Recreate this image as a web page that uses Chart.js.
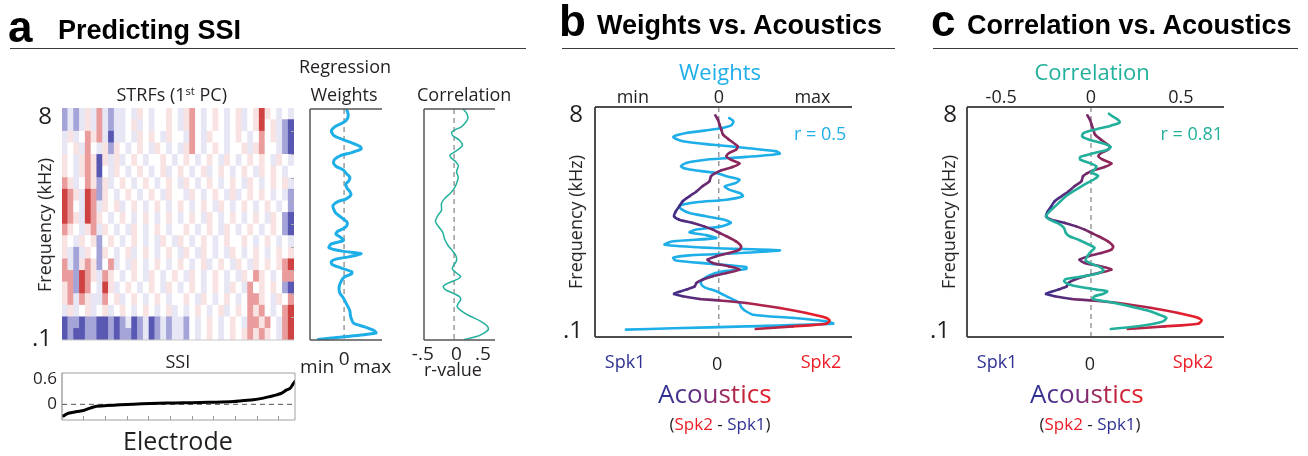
<!DOCTYPE html>
<html>
<head>
<meta charset="utf-8">
<script src="https://cdn.jsdelivr.net/npm/chart.js@4.4.1/dist/chart.umd.min.js"></script>
<style>
    html, body { margin: 0; padding: 0; background: #fff; }
    #fig { position: relative; width: 1308px; height: 456px; overflow: hidden; font-family: "Open Sans", sans-serif; color: #231f20; }
    #fig canvas { position: absolute; left: 0; top: 0; }
    .t { position: absolute; white-space: nowrap; line-height: 1; }
    .h { font-family: "Liberation Sans", Arial, sans-serif; font-weight: bold; color: #000; }
    .rule { position: absolute; height: 1.5px; background: #3a3a3a; }
    .grad { background: linear-gradient(90deg, #2e3192 5%, #7a2d7a 45%, #c0243c 75%, #ed1c24); -webkit-background-clip: text; background-clip: text; color: transparent; }
    sup { font-size: 62%; vertical-align: 0.55em; line-height: 0; }
</style>
</head>
<body>
<div id="fig"></div>
<script>
/* Predicting SSI / Weights vs. Acoustics / Correlation vs. Acoustics */

// ------------------------------------------------------------
// Data (frequency axis: 0 = bottom of box, 100 = top)
// ------------------------------------------------------------

// STRF heatmap, rows from top (8 kHz) to bottom (.1 kHz), 40 electrode columns
// B b - . + r R  = strong blue ... white ... strong red
const strfRows = [
    'b-b-+-r-b-' + '-.-+.-..+.' + '-+r.-.+.-.' + '+-.+R+.-.-',
    'b-b-+-r-b-' + '-.+-.-..+.' + '-+r.-.+.-.' + '+-.+R.+-bB',
    '-+-.r+r-B-' + '-.-+.+.-+.' + '.-r.-+..-.' + '+.-.r.+-bB',
    '-.+-r.-+b+' + '.-.+.-+.-.' + '-+r.-.+.-.' + '.+-+r..-bB',
    '+.-+r+B+-+' + '-.+.-..+.-' + '.+.-.+.-+.' + '-.+.+.-+.-',
    '+.-+r+B.-+' + '.-.+.-.+-.' + '+.-.+-.+.-' + '.+.-+.+.-.',
    'r+-.r+b+-.' + '+.-.+.-.+.' + '-+.-.+.-.+' + '.-+.-.+.+-',
    'Rr+-Rrb+.-' + '.+.-.+.-+.' + '.-+.-.+.-+' + '-.+.+.-.-b',
    'Rr.-Rr-+.+' + '-.+.-.+.-.' + '+.-.+.-+.-' + '.+.-.+.-.b',
    'Rr+-Rr+.-.' + '+.-.+.-.+.' + '-.+.-+.-.+' + '.-.+.-+.bB',
    'r+.-+r-+.-' + '.-+.-.+.-.' + '.+.-.+.-+.' + '-.+.-.+.bB',
    '+.-+.+b.+.' + '-.+.-.-+.-' + '+.-.+.-.+.' + '.+.-.+.-.-',
    '+-b-+.b+.-' + '.+-.+.-.+.' + '-+.-+.-.-+' + '.-.+.-.+.+',
    'r-b+r+b.r-' + '.-+.-.+.-.' + '+.-.+-.+.-' + '+.-+.+.+rR',
    'rrbRr+-r+.' + '-.+.-+.-.+' + '.-+.-.+.-.' + '-+.r+.-.rr',
    '+rbRr.-R+-' + '.+.-.+.-+.' + '-.+.-.+.-+' + '.-r.+.+.bB',
    '+r-r+--r.+' + '-.+.-.+.-.' + '.+.-+.-.+.' + '-.rr+.-+.r',
    '-+-.+-.+-.' + '+.-.+.-.+-' + '.-.+.-.+-.' + '+.r+r.-.rR',
    'BbbBbbBBbB' + 'b-Bb-Bb-b-' + '-b.-.+.-.+' + '.-rr+r.-rR',
    'BbBBbbBBbB' + 'bbBb-Bb-b-' + '-b.-.+.-.+' + '.+r+r+.-rR',
];
const strfColors = {
    'B': 'rgb(88,88,178)', 'b': 'rgb(164,164,216)', '-': 'rgb(230,230,245)',
    '.': 'rgb(255,255,255)',
    '+': 'rgb(249,226,226)', 'r': 'rgb(234,156,156)', 'R': 'rgb(206,66,66)',
};
const strfTicks = [2, 4, 6, 8, 10, 12, 14, 16, 18];

// regression weights (same curve in a and b)
const weightsFreq = [95.2, 93.8, 91.9, 90.4, 88.7, 87.0, 85.1, 83.6, 82.2, 80.7, 79.7, 78.3, 77.1, 75.7, 74.2,
    72.8, 71.3, 69.9, 68.4, 67.0, 65.5, 64.1, 62.3, 61.2, 59.7, 58.6, 57.1, 55.7, 53.9, 52.5, 50.7, 49.6,
    48.1, 46.7, 45.5, 44.3, 43.0, 41.6, 40.1, 38.7, 37.7, 36.5, 35.5, 34.5, 33.3, 31.9, 30.4, 29.6, 28.3,
    26.8, 24.9, 23.5, 21.7, 19.9, 17.7, 14.8, 13.0, 11.6, 9.7, 8.3, 6.8, 5.8, 4.6, 3.8, 3.2];
const weightsVal = [0.12, 0.17, 0.14, -0.03, -0.38, -0.53, -0.42, -0.07, 0.32, 0.67, 0.71, 0.32, -0.15, -0.38, -0.44,
    -0.34, -0.03, 0.09, 0.24, 0.20, 0.07, 0.12, 0.26, 0.28, 0.09, -0.26, -0.46, -0.44, -0.34, -0.15, 0.09, 0.14,
    0.03, -0.26, -0.34, -0.15, -0.03, -0.53, -0.63, -0.07, 0.71, 0.24, -0.34, -0.53, -0.50, -0.11, 0.32, 0.32, 0.01,
    -0.11, -0.19, -0.21, -0.17, -0.03, 0.09, 0.24, 0.26, 0.30, 0.40, 0.86, 1.25, 1.33, 0.32, -0.53, -1.08];

// acoustics (Spk2 - Spk1), same curve in b and c
const acousticFreq = [96.4, 94.5, 92.3, 90.1, 88.0, 85.8, 82.9, 81.4, 80.0, 78.6, 77.1, 75.4, 73.9, 72.5, 71.0,
    69.9, 67.7, 65.5, 63.3, 61.2, 59.0, 56.8, 54.6, 52.5, 51.0, 49.6, 48.1, 46.7, 45.2, 43.8, 41.6, 39.4, 38.0,
    36.5, 35.1, 33.6, 32.2, 30.7, 29.3, 27.8, 26.4, 24.9, 23.5, 22.0, 20.6, 18.8, 17.7, 16.5, 15.9, 14.8, 12.6,
    10.4, 8.3, 7.2, 5.8, 4.6, 3.5];
const acousticVal = [-0.04, -0.01, 0.01, 0.03, 0.05, 0.12, 0.22, 0.20, 0.12, 0.09, 0.14, 0.24, 0.16, 0.03, -0.05,
    -0.09, -0.11, -0.19, -0.26, -0.34, -0.42, -0.46, -0.50, -0.52, -0.46, -0.30, -0.17, -0.07, 0.01, 0.09, 0.20,
    0.26, 0.24, 0.12, -0.03, -0.13, -0.07, 0.12, 0.24, 0.09, -0.07, -0.19, -0.26, -0.28, -0.38, -0.52, -0.42,
    -0.22, 0.01, 0.32, 0.71, 1.02, 1.25, 1.29, 1.25, 0.86, 0.43];

// correlation (r-value) as drawn in c
const corrFreq = [97.1, 95.9, 94.5, 93.3, 91.9, 90.1, 88.7, 87.2, 85.8, 84.1, 82.6, 81.4, 80.0, 78.3, 77.1, 75.7,
    74.2, 72.8, 71.6, 70.1, 68.7, 67.0, 65.2, 63.3, 61.2, 59.0, 56.8, 54.6, 52.5, 51.0, 49.3, 47.4, 45.2, 43.8,
    42.3, 40.1, 38.7, 37.2, 35.1, 33.3, 31.9, 30.4, 29.0, 27.5, 26.4, 25.2, 24.2, 22.8, 21.7, 20.6, 19.9, 18.8,
    17.7, 16.5, 15.1, 13.3, 11.6, 9.7, 8.3, 6.8, 5.8, 4.6, 3.5];
const corrVal = [0.10, 0.12, 0.15, 0.16, 0.11, 0.02, -0.04, -0.05, -0.01, 0.07, 0.11, 0.09, 0.02, -0.06, -0.06, -0.01,
    0.03, 0.02, 0.00, 0.04, 0.02, -0.02, -0.06, -0.10, -0.14, -0.17, -0.20, -0.23, -0.25, -0.23, -0.18, -0.15,
    -0.14, -0.12, -0.07, -0.01, 0.02, 0.00, -0.02, -0.03, 0.00, 0.05, 0.07, 0.03, -0.04, -0.14, -0.15, -0.12,
    -0.06, 0.03, 0.09, 0.07, 0.02, 0.01, 0.11, 0.22, 0.31, 0.38, 0.42, 0.40, 0.35, 0.25, 0.11];

// correlation as drawn in a
const corrAFreq = [100, 98.1, 95.9, 93.8, 92.3, 90.9, 89.9, 88.4, 86.5, 84.3, 82.9, 81.4, 80.0, 78.6, 77.1, 75.4,
    72.8, 70.6, 68.4, 65.5, 63.3, 61.2, 59.0, 56.1, 53.9, 51.3, 48.8, 46.7, 43.8, 40.9, 38.7, 36.5, 34.3, 32.2,
    30.7, 29.0, 27.5, 26.1, 24.6, 23.2, 21.7, 20.3, 18.8, 17.4, 15.9, 14.5, 12.6, 10.4, 8.3, 6.1, 4.6, 2.9, 1.4, 0.3];
const corrAVal = [0.15, 0.21, 0.23, 0.18, 0.12, 0.01, -0.04, -0.02, 0.09, 0.14, 0.09, 0.01, -0.07, -0.04, 0.03, 0.07,
    0.04, 0.07, 0.05, 0.0, -0.07, -0.16, -0.21, -0.21, -0.27, -0.31, -0.25, -0.19, -0.16, -0.10, -0.03, 0.03, 0.04,
    -0.01, -0.03, 0.04, 0.11, 0.04, -0.10, -0.18, -0.14, -0.02, 0.09, 0.11, 0.07, 0.05, 0.12, 0.26, 0.43, 0.55,
    0.57, 0.49, 0.36, 0.18];

// SSI sorted across electrodes (electrode position in %)
const ssiElectrode = [0.7, 2.1, 4.3, 6.4, 9.3, 12.1, 14.3, 19.3, 25, 30.7, 37.9, 45, 52.1, 59.3, 66.4, 73.6, 77.9,
    82.1, 86.4, 89.3, 92.1, 94.3, 96.4, 97.9, 99, 100];
const ssiVal = [-0.28, -0.23, -0.20, -0.175, -0.15, -0.09, -0.05, -0.03, -0.012, 0.004, 0.02, 0.03, 0.037, 0.045,
    0.053, 0.07, 0.093, 0.11, 0.15, 0.19, 0.23, 0.27, 0.35, 0.39, 0.48, 0.56];
const ssiTicks = [9.1, 18.4, 27.7, 37, 46.3, 55.6, 64.9, 74.2, 83.5, 92.8];

// ------------------------------------------------------------
// Helpers
// ------------------------------------------------------------
const W = 1308, H = 456;
const fig = document.getElementById('fig');
const INK = '#231f20', BLUE = '#1eaee8', TEAL = '#22b09c', NAVY = '#2e3192', RED = '#ed1c24';

function pad(l, t, r, b) {
    return { left: l, top: t, right: W - r, bottom: H - b };
}

function label(html, x, base, size, o = {}) {
    const d = document.createElement('div');
    d.className = 't' + (o.bold ? ' h' : '') + (o.cls ? ' ' + o.cls : '');
    d.innerHTML = html;
    d.style.fontSize = size + 'px';
    if (o.color) d.style.color = o.color;
    fig.appendChild(d);
    const w = d.offsetWidth, h = d.offsetHeight;
    if (o.rotate) {
        d.style.left = (x - w / 2) + 'px';
        d.style.top = (base - h / 2) + 'px';
        d.style.transform = 'rotate(-90deg)';
        return;
    }
    const k = o.bold ? 0.846 : 0.888; // baseline offset (em) for line-height 1
    d.style.top = (base - k * size) + 'px';
    const align = o.align || 'center';
    d.style.left = (align === 'left' ? x : align === 'right' ? x - w : x - w / 2) + 'px';
}

function rule(x0, x1, y) {
    const d = document.createElement('div');
    d.className = 'rule';
    Object.assign(d.style, { left: x0 + 'px', width: (x1 - x0) + 'px', top: y + 'px' });
    fig.appendChild(d);
}

function canvas() {
    const c = document.createElement('canvas');
    c.width = W;
    c.height = H;
    fig.appendChild(c);
    return c;
}

function curve(vals, freqs, color, width, extra) {
    return Object.assign({
        data: vals.map((v, i) => ({ x: v, y: freqs[i] })),
        showLine: true,
        borderColor: color,
        borderWidth: width,
        pointRadius: 0,
        tension: 0.25,
        borderCapStyle: 'round',
        borderJoinStyle: 'round',
    }, extra || {});
}

// navy -> maroon -> red by acoustic value
function acousticColor(v) {
    const stops = [[-0.55, [58, 46, 140]], [0.1, [135, 40, 96]], [1.2, [236, 30, 40]]];
    let i = v < stops[1][0] ? 0 : 1;
    const [v0, c0] = stops[i], [v1, c1] = stops[i + 1];
    const t = Math.max(0, Math.min(1, (v - v0) / (v1 - v0)));
    const c = c0.map((a, k) => Math.round(a + (c1[k] - a) * t));
    return `rgb(${c[0]},${c[1]},${c[2]})`;
}

// frame, zero lines, inward ticks and tick texts, all through the chart scales
function decor(spec) {
    return {
        id: 'decor',
        beforeDatasetsDraw(chart) {
            const { ctx, chartArea: a } = chart;
            (spec.zero || []).forEach((z) => {
                const s = chart.scales[z.axis];
                const p = s.getPixelForValue(z.value);
                ctx.save();
                ctx.strokeStyle = z.color || '#8c8c8c';
                ctx.lineWidth = z.width || 1.3;
                ctx.setLineDash(z.dash || [5, 4]);
                ctx.beginPath();
                if (s.isHorizontal()) { ctx.moveTo(p, a.top); ctx.lineTo(p, a.bottom); }
                else { ctx.moveTo(a.left, p); ctx.lineTo(a.right, p); }
                ctx.stroke();
                ctx.restore();
            });
        },
        afterDraw(chart) {
            const { ctx, chartArea: a } = chart;
            (spec.frame || []).forEach((f) => {
                ctx.save();
                ctx.strokeStyle = f.color || '#4d4d4d';
                ctx.lineWidth = f.width || 1.5;
                ctx.beginPath();
                f.sides.forEach((sd) => {
                    if (sd === 'top') { ctx.moveTo(a.left, a.top); ctx.lineTo(a.right, a.top); }
                    if (sd === 'bottom') { ctx.moveTo(a.left, a.bottom); ctx.lineTo(a.right, a.bottom); }
                    if (sd === 'left') { ctx.moveTo(a.left, a.top); ctx.lineTo(a.left, a.bottom); }
                    if (sd === 'right') { ctx.moveTo(a.right, a.top); ctx.lineTo(a.right, a.bottom); }
                });
                ctx.stroke();
                ctx.restore();
            });
            (spec.ticks || []).forEach((tk) => {
                const s = chart.scales[tk.axis];
                ctx.save();
                ctx.strokeStyle = tk.color || '#999';
                ctx.lineWidth = 1;
                ctx.beginPath();
                tk.values.forEach((v) => {
                    const p = Math.round(s.getPixelForValue(v)) + 0.5;
                    if (tk.side === 'right') { ctx.moveTo(a.right, p); ctx.lineTo(a.right - tk.len, p); }
                    if (tk.side === 'bottom') { ctx.moveTo(p, a.bottom); ctx.lineTo(p, a.bottom - tk.len); }
                });
                ctx.stroke();
                ctx.restore();
            });
            (spec.text || []).forEach((t) => {
                const s = chart.scales[t.axis];
                ctx.save();
                ctx.font = (t.size || 18) + 'px "Open Sans"';
                ctx.fillStyle = t.color || INK;
                ctx.textAlign = t.align || 'center';
                if (s.isHorizontal()) {
                    ctx.textBaseline = 'alphabetic';
                    ctx.fillText(t.text, s.getPixelForValue(t.value), t.at);
                } else {
                    ctx.textBaseline = 'middle';
                    ctx.fillText(t.text, t.at, s.getPixelForValue(t.value));
                }
                ctx.restore();
            });
        },
    };
}

function makeChart(type, box, scales, data, spec) {
    return new Chart(canvas(), {
        type,
        data,
        options: {
            responsive: false,
            animation: false,
            events: [],
            layout: { padding: pad(box[0], box[1], box[2], box[3]) },
            plugins: { legend: { display: false }, tooltip: { enabled: false } },
            scales,
        },
        plugins: [decor(spec)],
    });
}

function lin(min, max, extra) {
    return Object.assign({ type: 'linear', display: false, min, max }, extra || {});
}

// ------------------------------------------------------------
// Panel a: STRF heatmap (stacked unit bars, one dataset per frequency row)
// ------------------------------------------------------------
const nCols = strfRows[0].length;
const colLabels = Array.from({ length: nCols }, (_, i) => String(i + 1));
const strfSets = strfRows.slice().reverse().map((row) => ({
    data: colLabels.map(() => 1),
    backgroundColor: row.split('').map((ch) => strfColors[ch]),
    borderWidth: 0,
    barPercentage: 1,
    categoryPercentage: 1,
}));

makeChart('bar', [62, 108, 294, 340], {
    x: { display: false, stacked: true },
    y: lin(0, strfRows.length, { stacked: true }),
}, { labels: colLabels, datasets: strfSets }, {
    frame: [{ sides: ['bottom'], color: '#c8c8c8', width: 1 }],
    ticks: [{ axis: 'y', values: strfTicks, side: 'right', len: 3, color: '#aaa' }],
    text: [
        { axis: 'y', value: 19.2, text: '8', at: 52, align: 'right', size: 24 },
        { axis: 'y', value: 0.1, text: '.1', at: 52, align: 'right', size: 24 },
    ],
});

// regression weights (a)
makeChart('scatter', [310, 109, 382, 340], {
    x: lin(-1.42, 1.58),
    y: lin(3.0, 95.8),
}, { datasets: [curve(weightsVal, weightsFreq, BLUE, 3)] }, {
    zero: [{ axis: 'x', value: 0, color: '#8c8c8c', dash: [5, 4] }],
    frame: [{ sides: ['top', 'left', 'bottom'], color: '#555', width: 1.5 }],
    text: [
        { axis: 'x', value: -1.125, text: 'min', at: 373, size: 19 },
        { axis: 'x', value: 0, text: '0', at: 365, size: 19 },
        { axis: 'x', value: 1.17, text: 'max', at: 373, size: 19 },
    ],
});

// correlation (a)
makeChart('scatter', [424, 109, 495, 340], {
    x: lin(-0.5, 0.68),
    y: lin(0, 100),
}, { datasets: [curve(corrAVal, corrAFreq, TEAL, 1.5)] }, {
    zero: [{ axis: 'x', value: 0, color: '#8c8c8c', dash: [5, 4] }],
    frame: [{ sides: ['top', 'left', 'bottom'], color: '#555', width: 1.5 }],
    text: [
        { axis: 'x', value: -0.52, text: '-.5', at: 360, size: 19 },
        { axis: 'x', value: 0.04, text: '0', at: 360, size: 19 },
        { axis: 'x', value: 0.48, text: '.5', at: 360, size: 19 },
    ],
});

// SSI
makeChart('scatter', [62, 373, 295, 420], {
    x: lin(0, 100),
    y: lin(-0.38, 0.76),
}, { datasets: [curve(ssiVal, ssiElectrode, '#000', 3, {
    data: ssiElectrode.map((e, i) => ({ x: e, y: ssiVal[i] })),
})] }, {
    zero: [{ axis: 'y', value: 0, color: '#555', dash: [5, 4], width: 1 }],
    frame: [
        { sides: ['top', 'right', 'bottom'], color: '#a0a0a0', width: 1 },
        { sides: ['left'], color: '#777', width: 1 },
    ],
    ticks: [{ axis: 'x', values: ssiTicks, side: 'bottom', len: 4, color: '#999' }],
    text: [
        { axis: 'y', value: 0.6, text: '0.6', at: 57, align: 'right', size: 17 },
        { axis: 'y', value: 0, text: '0', at: 57, align: 'right', size: 17 },
    ],
});

// ------------------------------------------------------------
// Panel b: weights vs acoustics
// ------------------------------------------------------------
const acousticSet = (axisId) => curve(acousticVal, acousticFreq, acousticColor(0), 2.6, {
    xAxisID: axisId,
    segment: { borderColor: (c) => acousticColor((c.p0.parsed.x + c.p1.parsed.x) / 2) },
});

makeChart('scatter', [595, 107, 852, 337], {
    x: lin(-1.44, 1.55),
    y: lin(0, 100),
}, { datasets: [acousticSet('x'), curve(weightsVal, weightsFreq, BLUE, 2.6)] }, {
    zero: [{ axis: 'x', value: 0, color: '#8c8c8c', dash: [5, 4] }],
    frame: [{ sides: ['top', 'left', 'bottom'], color: '#4d4d4d', width: 2 }],
    text: [
        { axis: 'x', value: -1.0, text: 'min', at: 103, size: 18 },
        { axis: 'x', value: 0, text: '0', at: 103, size: 18 },
        { axis: 'x', value: 1.09, text: 'max', at: 103, size: 18 },
        { axis: 'x', value: -1.09, text: 'Spk1', at: 368, size: 18, color: NAVY },
        { axis: 'x', value: -0.02, text: '0', at: 370, size: 18 },
        { axis: 'x', value: 1.19, text: 'Spk2', at: 368, size: 18, color: RED },
        { axis: 'y', value: 96.5, text: '8', at: 583, align: 'right', size: 24 },
        { axis: 'y', value: 2.6, text: '.1', at: 583, align: 'right', size: 24 },
    ],
});

// ------------------------------------------------------------
// Panel c: correlation vs acoustics
// ------------------------------------------------------------
makeChart('scatter', [967, 107, 1224, 337], {
    x: lin(-0.69, 0.74),
    xa: lin(-1.44, 1.55, { axis: 'x' }),
    y: lin(0, 100),
}, { datasets: [curve(corrVal, corrFreq, TEAL, 2.6), acousticSet('xa')] }, {
    zero: [{ axis: 'x', value: 0, color: '#8c8c8c', dash: [5, 4] }],
    frame: [{ sides: ['top', 'left', 'bottom'], color: '#4d4d4d', width: 2 }],
    text: [
        { axis: 'x', value: -0.5, text: '-0.5', at: 103, size: 18 },
        { axis: 'x', value: 0, text: '0', at: 103, size: 18 },
        { axis: 'x', value: 0.5, text: '0.5', at: 103, size: 18 },
        { axis: 'xa', value: -1.09, text: 'Spk1', at: 368, size: 18, color: NAVY },
        { axis: 'xa', value: -0.01, text: '0', at: 370, size: 18 },
        { axis: 'xa', value: 1.19, text: 'Spk2', at: 368, size: 18, color: RED },
        { axis: 'y', value: 96.5, text: '8', at: 957, align: 'right', size: 24 },
        { axis: 'y', value: 2.6, text: '.1', at: 950, align: 'right', size: 24 },
    ],
});

// ------------------------------------------------------------
// Titles and axis titles
// ------------------------------------------------------------
label('a', 8, 42, 44, { bold: true, align: 'left' });
label('Predicting SSI', 58, 40, 27, { bold: true, align: 'left' });
rule(10, 526, 47.5);
label('b', 559, 36, 44, { bold: true, align: 'left' });
label('Weights vs. Acoustics', 597, 35, 27, { bold: true, align: 'left' });
rule(562, 895, 47.5);
label('c', 931, 36, 44, { bold: true, align: 'left' });
label('Correlation vs. Acoustics', 967, 35, 27, { bold: true, align: 'left' });
rule(933, 1298, 47.5);

label('STRFs (1<sup>st</sup> PC)', 172, 101, 18);
label('Regression', 345, 73, 18);
label('Weights', 344, 101, 18);
label('Correlation', 464, 101, 18);
label('Frequency (kHz)', 44, 225, 18, { rotate: true });
label('r-value', 453, 376, 18);
label('SSI', 178, 368, 18);
label('Electrode', 178, 450, 25);

const acousticTitle = '(<span style="color:' + RED + '">Spk2</span> - <span style="color:' + NAVY + '">Spk1</span>)';

label('Weights', 720, 80, 22, { color: BLUE });
label('r = 0.5', 820, 140, 18, { color: BLUE });
label('Frequency (kHz)', 575, 222, 18, { rotate: true });
label('Acoustics', 715, 403, 26, { cls: 'grad' });
label(acousticTitle, 720, 430, 17);

label('Correlation', 1092, 80, 22, { color: TEAL });
label('r = 0.81', 1192, 140, 18, { color: TEAL });
label('Frequency (kHz)', 948, 222, 18, { rotate: true });
label('Acoustics', 1087, 403, 26, { cls: 'grad' });
label(acousticTitle, 1090, 430, 17);
</script>
</body>
</html>
